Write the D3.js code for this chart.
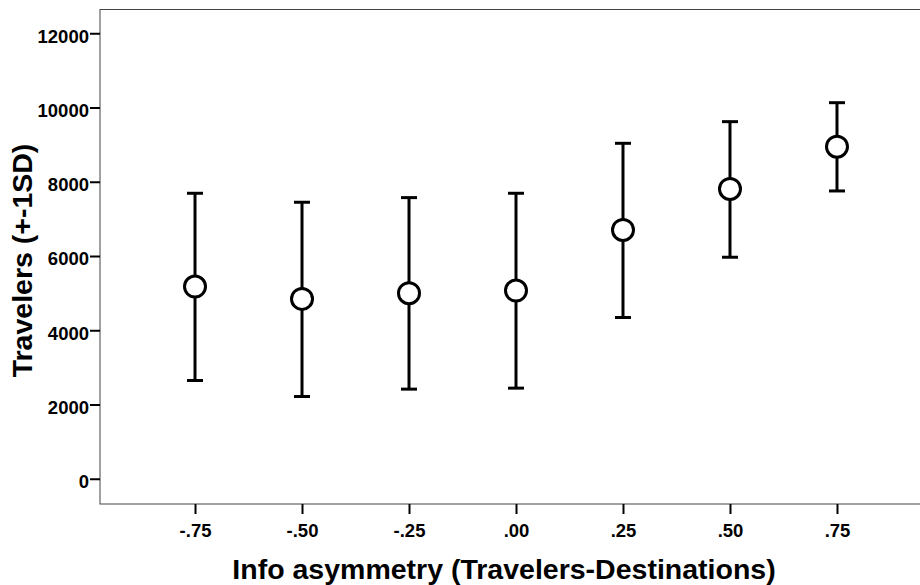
<!DOCTYPE html>
<html>
<head>
<meta charset="utf-8">
<script src="https://cdn.jsdelivr.net/npm/d3@7"></script>
<style>
	body { margin: 0; background: #fff; }
	svg { display: block; font-family: Arial, "Liberation Sans", sans-serif; font-weight: bold; }
</style>
</head>
<body>
<div id="graph"></div>
<script>
var groups = [-0.75, -0.50, -0.25, 0.00, 0.25, 0.50, 0.75]
var groupLabels = ['-.75', '-.50', '-.25', '.00', '.25', '.50', '.75']
var means = [5176, 4845, 4998, 5069, 6702, 7806, 8945]
var upper = [7690, 7448, 7573, 7690, 9036, 9619, 10130]
var lower = [2646, 2215, 2414, 2441, 4343, 5967, 7752]
var yTicks = [0, 2000, 4000, 6000, 8000, 10000, 12000]

var width = 920
var height = 585

var svg = d3.select('#graph').append('svg')
	.attr('width', width)
	.attr('height', height)

// plot box (right side falls outside the window)
var plotLeft = 100, plotTop = 9.5, plotBottom = 504, plotRight = 932

var xScale = d3.scaleLinear()
	.domain([-0.972, 0.972])
	.range([plotLeft, plotRight])

var yScale = d3.scaleLinear()
	.domain([-680, 12640])
	.range([plotBottom, plotTop])

svg.append('rect')
	.attr('x', plotLeft)
	.attr('y', plotTop)
	.attr('width', plotRight - plotLeft)
	.attr('height', plotBottom - plotTop)
	.attr('fill', 'none')
	.attr('stroke', '#444')
	.attr('stroke-width', 1)

var xAxis = d3.axisBottom(xScale)
	.tickValues(groups)
	.tickSize(10)
	.tickPadding(8)
	.tickFormat(function(d, i) { return groupLabels[i] })

var yAxis = d3.axisLeft(yScale)
	.tickValues(yTicks)
	.tickSize(10)
	.tickPadding(1)
	.tickFormat(d3.format('d'))

var gx = svg.append('g')
	.attr('transform', 'translate(0,' + plotBottom + ')')
	.call(xAxis)
var gy = svg.append('g')
	.attr('transform', 'translate(' + plotLeft + ',0)')
	.call(yAxis)

svg.selectAll('.domain').remove()
svg.selectAll('.tick line')
	.attr('stroke', '#000')
	.attr('stroke-width', 2)
svg.selectAll('.tick text')
	.attr('fill', '#000')
	.style('font-size', '18.5px')
	.style('font-family', 'Arial, "Liberation Sans", sans-serif')
	.style('font-weight', 'bold')
gy.selectAll('.tick text').attr('dy', '0.48em')
gx.selectAll('.tick text').attr('dy', '0.82em')

// error bars
var bars = svg.append('g').selectAll('g')
	.data(groups)
	.enter().append('g')

bars.append('line')
	.attr('x1', function(d) { return xScale(d) })
	.attr('x2', function(d) { return xScale(d) })
	.attr('y1', function(d, i) { return yScale(upper[i]) })
	.attr('y2', function(d, i) { return yScale(lower[i]) })
	.attr('stroke', '#000')
	.attr('stroke-width', 3)

bars.append('line')
	.attr('x1', function(d) { return xScale(d) - 8 })
	.attr('x2', function(d) { return xScale(d) + 8 })
	.attr('y1', function(d, i) { return yScale(upper[i]) })
	.attr('y2', function(d, i) { return yScale(upper[i]) })
	.attr('stroke', '#000')
	.attr('stroke-width', 3)

bars.append('line')
	.attr('x1', function(d) { return xScale(d) - 8 })
	.attr('x2', function(d) { return xScale(d) + 8 })
	.attr('y1', function(d, i) { return yScale(lower[i]) })
	.attr('y2', function(d, i) { return yScale(lower[i]) })
	.attr('stroke', '#000')
	.attr('stroke-width', 3)

bars.append('circle')
	.attr('cx', function(d) { return xScale(d) })
	.attr('cy', function(d, i) { return yScale(means[i]) })
	.attr('r', 10.5)
	.attr('fill', '#fff')
	.attr('stroke', '#000')
	.attr('stroke-width', 3)

// axis titles
svg.append('text')
	.attr('x', 504)
	.attr('y', 579)
	.attr('text-anchor', 'middle')
	.style('font-size', '28.5px')
	.text('Info asymmetry (Travelers-Destinations)')

svg.append('text')
	.attr('transform', 'translate(32,260.5) rotate(-90)')
	.attr('text-anchor', 'middle')
	.style('font-size', '28.5px')
	.text('Travelers (+-1SD)')
</script>
</body>
</html>
